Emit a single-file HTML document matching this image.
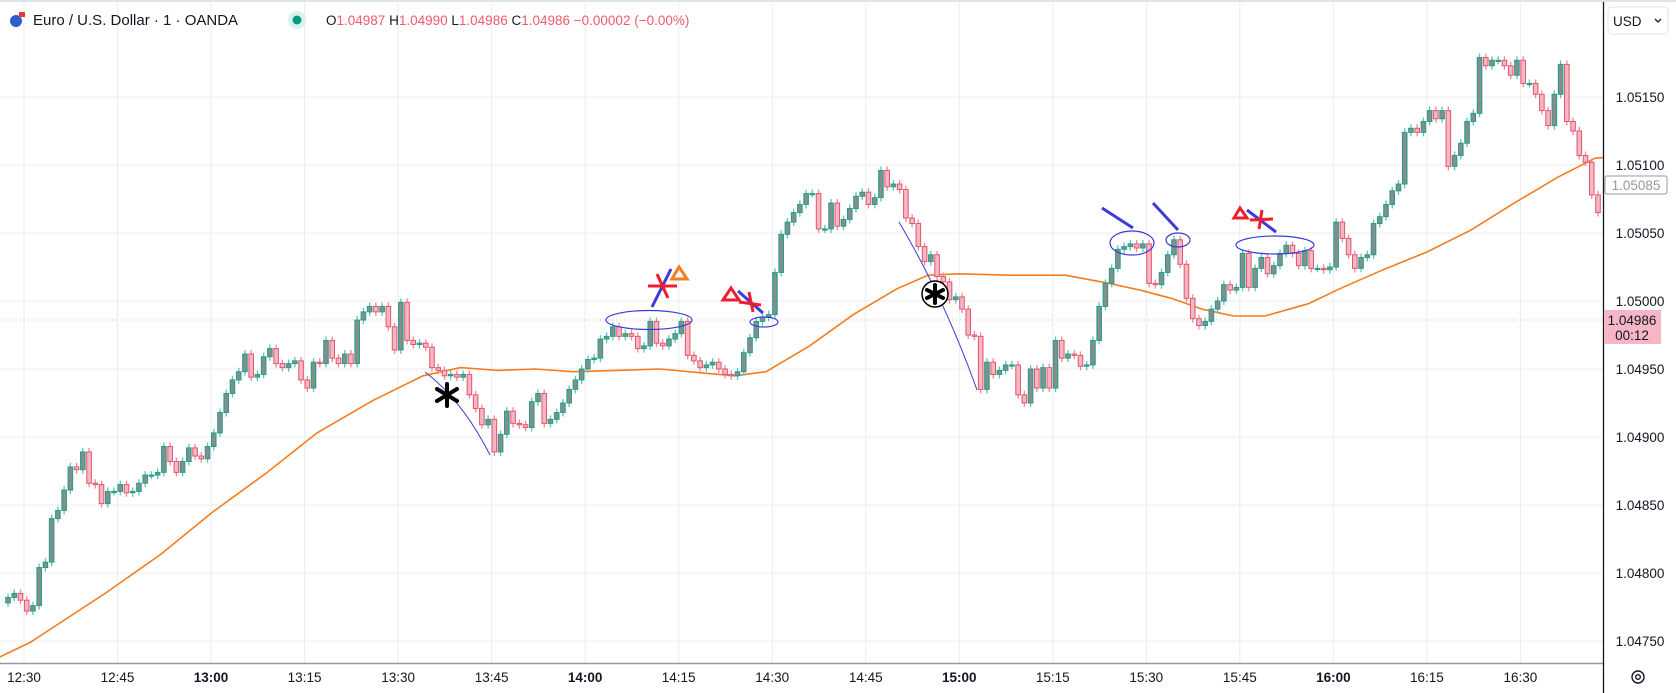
<!DOCTYPE html>
<html><head><meta charset="utf-8"><style>
html,body{margin:0;padding:0;background:#fff;width:1676px;height:693px;overflow:hidden;font-family:"Liberation Sans",sans-serif;}
svg{position:absolute;left:0;top:0}
</style></head><body>
<svg id="chart" width="1676" height="693" xmlns="http://www.w3.org/2000/svg"></svg>
<script>
const closes=[1.04782,1.04785,1.04780,1.04772,1.04776,
1.04804,1.04808,1.04840,1.04846,1.04861,1.04878,1.04876,1.04889,1.04866,1.04865,1.04851,1.04860,1.04860,1.04865,1.04859,1.04860,1.04866,1.04872,1.04872,1.04874,1.04893,1.04882,1.04874,1.04882,1.04892,1.04886,1.04884,1.04893,1.04903,1.04918,1.04932,1.04942,1.04948,1.04961,1.04944,1.04946,1.04959,1.04965,1.04954,1.04951,
1.04954,1.04956,1.04942,1.04936,1.04955,1.04954,1.04971,1.04958,1.04954,1.04961,1.04954,1.04986,1.04992,1.04996,1.04992,1.04996,1.04981,1.04964,1.04999,1.04971,1.04968,1.04969,1.04966,1.04951,1.04949,1.04945,1.04946,1.04944,1.04946,1.04931,1.04921,1.04909,1.04913,1.04889,1.04902,1.04919,1.04910,1.04909,1.04907,1.04926,1.04932,1.04910,1.04913,
1.04918,1.04925,1.04935,1.04942,1.04950,
1.04957,1.04958,1.04972,1.04974,1.04981,1.04974,1.04976,1.04974,1.04965,1.04967,1.04985,1.04969,1.04967,1.04972,1.04976,1.04985,1.04960,1.04956,1.04951,1.04953,1.04955,1.04950,1.04946,1.04945,1.04948,1.04962,1.04973,1.04985,1.04988,1.04990,1.05021,1.05049,1.05058,1.05065,1.05071,1.05079,1.05079,1.05053,1.05053,1.05072,1.05055,
1.05060,1.05068,1.05077,1.05080,1.05071,1.05076,1.05096,1.05084,1.05086,1.05082,1.05061,1.05057,1.05040,1.05029,1.05034,1.05018,1.05014,1.05001,1.05003,1.04994,1.04975,1.04974,1.04935,1.04955,1.04946,1.04949,1.04953,1.04953,1.04931,1.04925,1.04950,1.04936,1.04951,1.04936,1.04971,1.04958,1.04961,1.04960,1.04952,1.04953,1.04971,1.04996,1.05013,1.05024,1.05038,1.05040,1.05042,1.05039,1.05042,1.05013,1.05012,1.05021,1.05034,1.05045,1.05027,1.05002,1.04987,1.04982,1.04985,1.04994,1.05000,1.05012,1.05008,1.05010,1.05035,1.05010,1.05024,1.05032,1.05020,1.05026,1.05035,1.05041,1.05035,1.05026,1.05037,1.05024,1.05024,1.05023,1.05025,1.05058,1.05046,1.05034,1.05024,1.05032,1.05034,1.05057,1.05062,1.05071,1.05081,1.05086,1.05124,1.05127,1.05124,1.05132,1.05140,1.05134,1.05140,1.05099,1.05107,1.05116,1.05132,1.05138,1.05179,1.05173,1.05177,1.05177,1.05173,1.05166,1.05177,1.05160,1.05160,1.05152,1.05140,1.05129,1.05152,1.05174,1.05132,1.05125,1.05107,1.05102,1.05078,1.05065];
const firstOpen=1.04778;
const maMinutes=[-4,1,6,13,22,30,39,47,56,64,70,76,82,88,95,102,109,114,119,126,133,140,145,150,158,167,174,179,184,189,194,199,206,211,218,225,232,239,246,252,260];
const maValues=[1.04738,1.04749,1.04764,1.04785,1.04814,1.04844,1.04874,1.04903,1.04927,1.04945,1.04951,1.04949,1.04950,1.04948,1.04949,1.04950,1.04947,1.04945,1.04948,1.04967,1.04990,1.05009,1.05019,1.05020,1.05019,1.05019,1.05013,1.05008,1.05002,1.04994,1.04989,1.04989,1.04998,1.05009,1.05023,1.05036,1.05052,1.05072,1.05091,1.05105,1.05108];
const priceTicks=[1.05150,1.05100,1.05050,1.05000,1.04950,1.04900,1.04850,1.04800,1.04750];
const timeLabels=["12:30","12:45","13:00","13:15","13:30","13:45","14:00","14:15","14:30","14:45","15:00","15:15","15:30","15:45","16:00","16:15","16:30"];
const lastPrice=1.04986;

const NS="http://www.w3.org/2000/svg";
const svg=document.getElementById('chart');
const PW=1603, PB=663;
function y(p){return 301-(p-1.05)*136000;}
function xt(m){return 24+m*6.235;}
function mk(tag,attrs,parent){const e=document.createElementNS(NS,tag);for(const k in attrs)e.setAttribute(k,attrs[k]);(parent||svg).appendChild(e);return e;}
const clip=mk('clipPath',{id:'pc'});mk('rect',{x:0,y:0,width:PW,height:PB},clip);
// grid
const grid=mk('g',{});


timeLabels.forEach((t,i)=>{const gx=xt(i*15);const l=mk('line',{x1:gx,x2:gx,y1:0,y2:PB,stroke:'#e9edf2','stroke-width':1},grid);

});
priceTicks.forEach(p=>{const l=mk('line',{x1:0,x2:PW,y1:y(p),y2:y(p),stroke:'#e9edf2','stroke-width':1},grid);

});
// last price dotted
const lp=mk('line',{x1:0,x2:PW,y1:y(lastPrice),y2:y(lastPrice),stroke:'#f7a9bb','stroke-width':1,'stroke-dasharray':'1 3'});


// MA
const pts=maMinutes.map((m,i)=>xt(m).toFixed(1)+','+y(maValues[i]).toFixed(1)).join(' ');
const ma=mk('polyline',{points:pts,fill:'none',stroke:'#f57c1f','stroke-width':1.6,'clip-path':'url(#pc)'});


// candles
const cg=mk('g',{'clip-path':'url(#pc)'});


const n=closes.length, step=1590/(n-1);
for(let i=0;i<n;i++){
  const o=i?closes[i-1]:firstOpen, c=closes[i], up=c>=o;
  const cx=8+i*step;
  const top=y(Math.max(o,c)), bot=y(Math.min(o,c));
  const w=mk('line',{x1:cx,x2:cx,y1:top-4,y2:bot+4,stroke:up?'#5fc4b4':'#ee8a98','stroke-width':1.3},cg);
  
  
  const b=mk('rect',{x:cx-2.3,y:top,width:4.6,height:Math.max(bot-top,1.2),fill:up?'#858e8d':'#f6b6c4',stroke:up?'#1fa08c':'#e0566a','stroke-width':1},cg);
  
  
}
// axes lines
mk('line',{x1:0,x2:PW,y1:PB+0.5,y2:PB+0.5,stroke:'#9598a1','stroke-width':1.5});
mk('line',{x1:PW+0.5,x2:PW+0.5,y1:0,y2:693,stroke:'#131722','stroke-width':1.3});
mk('rect',{x:0,y:0,width:1676,height:2,fill:'#e0e3eb'});
// price labels
priceTicks.forEach(p=>{const t=mk('text',{x:1640,y:y(p)+5,'text-anchor':'middle','font-size':13.5,fill:'#131722','font-family':'Liberation Sans, sans-serif'});t.textContent=p.toFixed(5);

});
timeLabels.forEach((s,i)=>{const t=mk('text',{x:xt(i*15),y:682,'text-anchor':'middle','font-size':13.5,fill:'#131722','font-weight':s.endsWith(':00')?'bold':'normal','font-family':'Liberation Sans, sans-serif'});t.textContent=s;

});
</script>
<svg width="1676" height="693" xmlns="http://www.w3.org/2000/svg" style="pointer-events:none">
 <g fill="none">
  <path d="M425,372 Q462,400 490,455" stroke="#3b3bd6" stroke-width="1"/>
  <g stroke="#000" stroke-width="4" stroke-linecap="round">
   <line x1="447" y1="384" x2="447" y2="406"/><line x1="437" y1="389" x2="457" y2="401"/><line x1="437" y1="401" x2="457" y2="389"/>
  </g>
  <ellipse cx="649" cy="320" rx="43" ry="9.5" stroke="#3b3bd6" stroke-width="1.2"/>
  <line x1="652" y1="307" x2="671" y2="269" stroke="#3b3bd6" stroke-width="3"/>
  <g stroke="#f01e2c" stroke-width="3"><line x1="648" y1="286" x2="677" y2="286"/><line x1="657" y1="274" x2="668" y2="298"/></g>
  <polygon points="679,267 672,279 687,279" stroke="#f57c1f" stroke-width="3"/>
  <polygon points="731,288 723,300 739,300" stroke="#f01e2c" stroke-width="3"/>
  <line x1="738" y1="291" x2="763" y2="313" stroke="#3b3bd6" stroke-width="3"/>
  <g stroke="#f01e2c" stroke-width="3"><line x1="739" y1="302" x2="761" y2="305"/><line x1="749" y1="292" x2="753" y2="312"/></g>
  <ellipse cx="764" cy="322" rx="14" ry="5" stroke="#3b3bd6" stroke-width="1.2"/>
  <path d="M899,222 Q945,300 977,390" stroke="#3b3bd6" stroke-width="1"/>
  <g>
   <circle cx="935" cy="294" r="13" fill="#fff" stroke="#000" stroke-width="1.5"/>
   <g stroke="#000" stroke-width="4" stroke-linecap="round"><line x1="935" y1="285" x2="935" y2="303"/><line x1="927" y1="290" x2="943" y2="298"/><line x1="927" y1="298" x2="943" y2="290"/></g>
  </g>
  <line x1="1102" y1="208" x2="1133" y2="228" stroke="#3b3bd6" stroke-width="3"/>
  <ellipse cx="1132" cy="243" rx="22" ry="12" stroke="#3b3bd6" stroke-width="1.2"/>
  <line x1="1153" y1="203" x2="1178" y2="230" stroke="#3b3bd6" stroke-width="3"/>
  <ellipse cx="1178" cy="240" rx="12" ry="7" stroke="#3b3bd6" stroke-width="1.2"/>
  <polygon points="1240,208 1234,218 1247,218" stroke="#f01e2c" stroke-width="3"/>
  <line x1="1247" y1="210" x2="1276" y2="232" stroke="#3b3bd6" stroke-width="3"/>
  <g stroke="#f01e2c" stroke-width="3"><line x1="1250" y1="220" x2="1273" y2="219"/><line x1="1262" y1="210" x2="1259" y2="229"/></g>
  <ellipse cx="1275" cy="245" rx="39" ry="9" stroke="#3b3bd6" stroke-width="1.2"/>
 </g>
 <g font-family="Liberation Sans, sans-serif">
  <circle cx="16" cy="21" r="6" fill="#2e5ec9"/>
  <rect x="19" y="12" width="6" height="5" fill="#e4393e"/>
  <text x="33" y="25" font-size="15" fill="#131722">Euro / U.S. Dollar · 1 · OANDA</text>
  <circle cx="297" cy="20" r="9" fill="#d9f2ee"/>
  <circle cx="297" cy="20" r="4.5" fill="#089981"/>
  <text x="326" y="25" font-size="13.5" fill="#ef5a6f"><tspan fill="#131722">O</tspan>1.04987 <tspan fill="#131722">H</tspan>1.04990 <tspan fill="#131722">L</tspan>1.04986 <tspan fill="#131722">C</tspan>1.04986 −0.00002 (−0.00%)</text>
 </g>
 <g font-family="Liberation Sans, sans-serif">
  <rect x="1608" y="7" width="60" height="27" rx="4" fill="#fff" stroke="#e0e3eb"/>
  <text x="1613" y="26" font-size="13.5" fill="#131722">USD</text>
  <path d="M1655,19 l3,3 l3,-3" stroke="#131722" stroke-width="1.3" fill="none"/>
  <rect x="1605" y="176" width="62" height="18" rx="2" fill="#fff" stroke="#9598a1"/>
  <text x="1636" y="190" text-anchor="middle" font-size="13.5" fill="#9598a1">1.05085</text>
  <rect x="1604" y="310" width="57" height="34" fill="#f7b6c6"/>
  <text x="1632" y="325" text-anchor="middle" font-size="13.5" fill="#131722">1.04986</text>
  <text x="1632" y="340" text-anchor="middle" font-size="13.5" fill="#131722">00:12</text>
  <g fill="none" stroke="#131722" stroke-width="1.4">
   <circle cx="1638" cy="677" r="6"/><circle cx="1638" cy="677" r="2.3"/>
  </g>
 </g>
</svg>
</body></html>
